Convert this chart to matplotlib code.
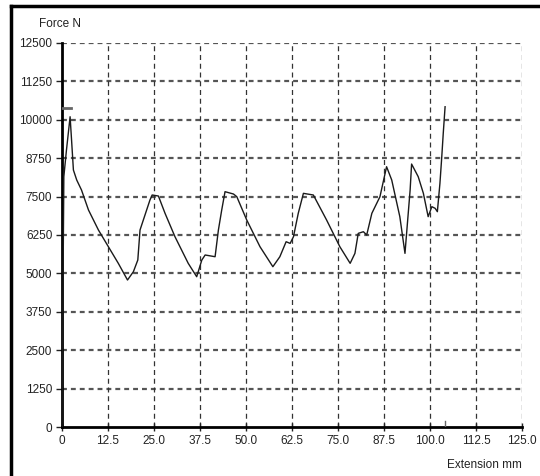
import numpy as np
import matplotlib.pyplot as plt
from matplotlib.lines import Line2D

plt.rcParams['font.family'] = ['Liberation Sans Narrow', 'Liberation Sans', 'DejaVu Sans']

# tensile test trace: extension (mm) vs force (N)
extension = [0, 0.3, 0.5, 1.2, 2.2, 2.6, 3.1, 4.0, 5.3, 7.2,
             9.9, 12.6, 15.3, 17.8, 19.4, 20.6, 21.2, 22.1, 23.9, 24.5,
             26.2, 28.0, 30.7, 34.3, 36.6, 38.0, 38.9, 41.6, 42.5, 43.4,
             44.3, 46.6, 47.5, 50.2, 53.8, 57.3, 59.2, 60.9, 62.0, 62.9,
             64.2, 65.6, 68.3, 71.9, 75.5, 78.3, 79.6, 80.5, 81.9, 82.8,
             84.2, 86.4, 88.2, 89.6, 91.8, 93.2, 94.6, 95.0, 96.8, 98.2,
             99.5, 100.5, 101.4, 102.0, 102.7, 103.2, 103.6, 104.1]
force = [0, 5000, 8150, 9000, 10100, 9340, 8365, 8040, 7714, 7063,
         6412, 5869, 5328, 4785, 5055, 5436, 6412, 6738, 7389, 7552,
         7519, 6956, 6194, 5328, 4892, 5436, 5599, 5543, 6412, 7063,
         7660, 7584, 7497, 6738, 5869, 5218, 5543, 6031, 5977, 6194,
         6956, 7606, 7552, 6738, 5869, 5328, 5652, 6303, 6357, 6250,
         6956, 7497, 8473, 8040, 6847, 5652, 7714, 8560, 8147, 7606,
         6847, 7172, 7118, 7009, 7932, 8798, 9558, 10425]

max_force = 10400
x_ticks = [0, 12.5, 25.0, 37.5, 50.0, 62.5, 75.0, 87.5, 100.0, 112.5, 125.0]
x_labels = ['0', '12.5', '25.0', '37.5', '50.0', '62.5', '75.0', '87.5', '100.0', '112.5', '125.0']
y_ticks = [0, 1250, 2500, 3750, 5000, 6250, 7500, 8750, 10000, 11250, 12500]

fig = plt.figure(figsize=(5.4, 4.76), dpi=100)
ax = fig.add_axes([62 / 540, 49 / 476, 460 / 540, 384 / 476])

# grid
for yv in y_ticks[1:]:
    ax.axhline(yv, color='#555555', lw=1.6, dashes=(2.2, 1.8), zorder=1)
for xv in x_ticks[1:]:
    ax.axvline(xv, color='#333333', lw=0.9, dashes=(4, 3), zorder=1)

ax.plot(extension, force, color='#1a1a1a', lw=1.0, zorder=3)

# max force marker and break marker
ax.plot([0, 2.4], [max_force, max_force], color='#666666', lw=2, zorder=3)
ax.plot([extension[-1], extension[-1]], [0, 200], color='#666666', lw=1, zorder=3)

ax.set_xlim(0, 125)
ax.set_ylim(0, 12500)
ax.set_xticks(x_ticks)
ax.set_xticklabels(x_labels)
ax.set_yticks(y_ticks)
ax.tick_params(labelsize=8.5, length=4, width=1, colors='#222222', pad=3)
ax.tick_params(axis='x', direction='inout', length=6)

for s in ['top', 'right']:
    ax.spines[s].set_visible(False)
for s in ['left', 'bottom']:
    ax.spines[s].set_linewidth(2)
    ax.spines[s].set_color('black')

fig.text(39 / 540, 1 - 24 / 476, 'Force N', fontsize=8.5, va='center', ha='left', color='#222222')
fig.text(522 / 540, 1 - 465 / 476, 'Extension mm', fontsize=8.5, va='center', ha='right', color='#222222')

# outer frame
fig.add_artist(Line2D([11 / 540, 1], [1 - 6 / 476, 1 - 6 / 476], color='black', lw=2.5, transform=fig.transFigure))
fig.add_artist(Line2D([11 / 540, 11 / 540], [0, 1 - 6 / 476], color='black', lw=2.5, transform=fig.transFigure))

fig.savefig('out.png', dpi=100)
